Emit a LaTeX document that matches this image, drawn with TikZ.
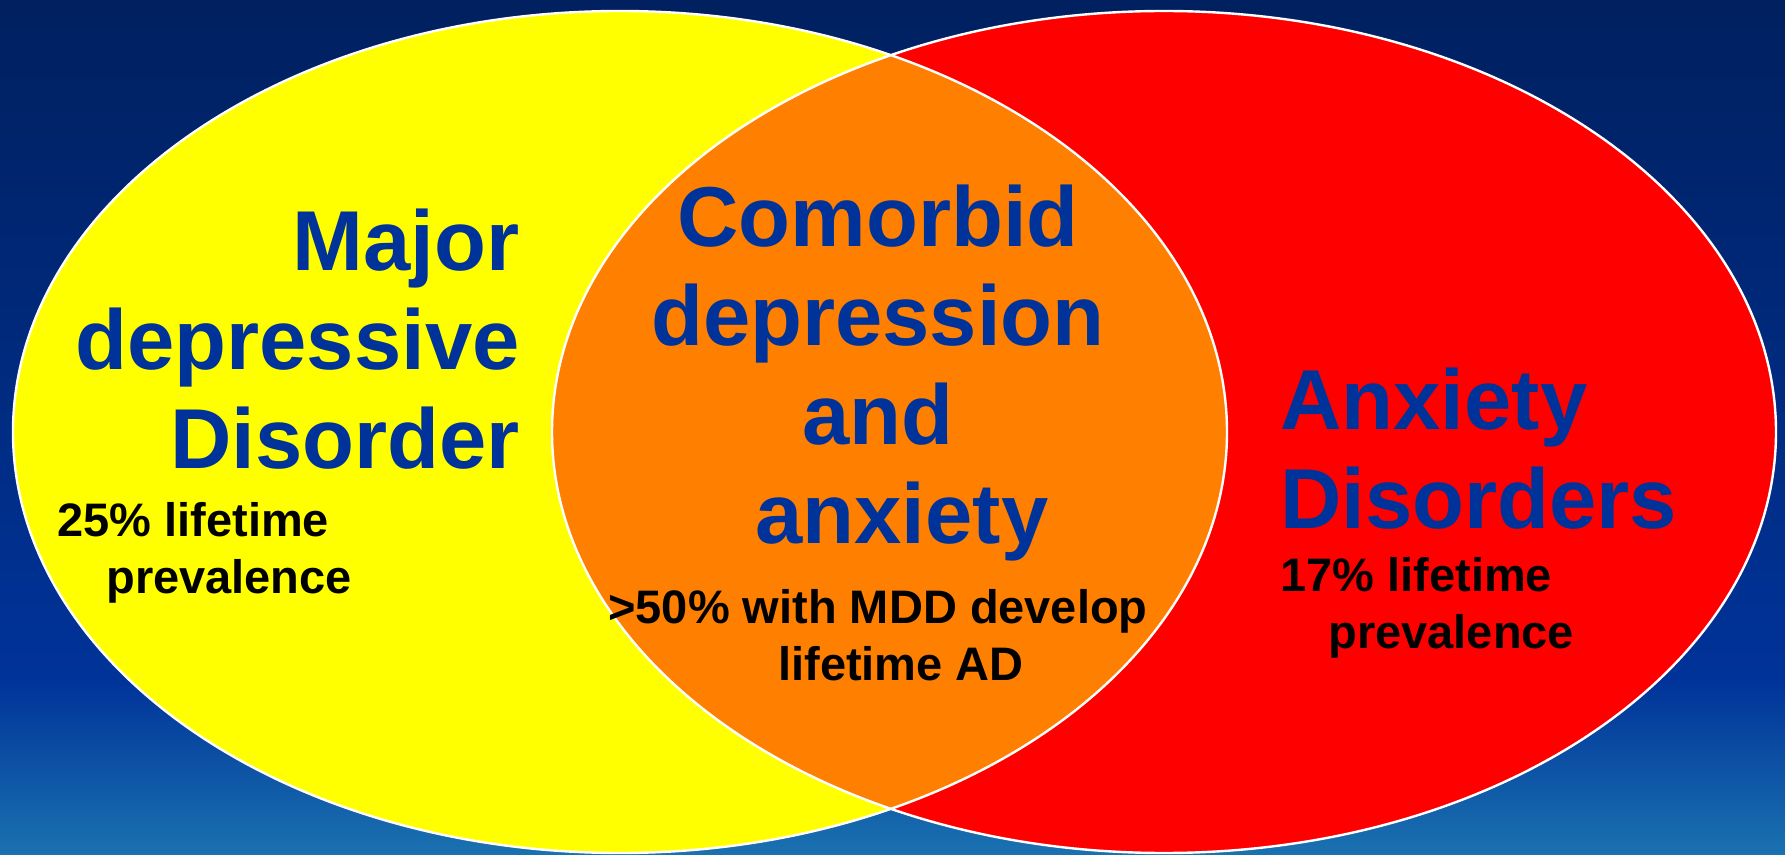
\documentclass[tikz,border=0pt]{standalone}
\usepackage{fontspec}
\setmainfont{Liberation Sans}
\usetikzlibrary{positioning}
\definecolor{navyTop}{HTML}{00205F}
\definecolor{navyMid}{HTML}{003399}
\definecolor{skyLow}{HTML}{1A72B0}
\definecolor{mddYellow}{HTML}{FFFF00}
\definecolor{adRed}{HTML}{FF0000}
\definecolor{bothOrange}{HTML}{FF8000}
\definecolor{txtBlue}{HTML}{003399}
\tikzset{
  bigtxt/.style   = {font=\fontsize{42.5}{49.5}\selectfont\bfseries,
                     text=txtBlue, inner sep=0pt},
  smalltxt/.style = {font=\fontsize{23.5}{28.5}\selectfont\bfseries,
                     text=black, inner sep=0pt},
  rim/.style      = {draw=white, line width=1.2pt}
}

\begin{document}
\begin{tikzpicture}[x=0.5pt, y=-0.5pt]
    \useasboundingbox (0,0) rectangle (1785,855);
    % background
    \shade[top color=navyTop, bottom color=navyMid] (0,0) rectangle (1785,682);
    \shade[top color=navyMid, bottom color=skyLow] (0,680) rectangle (1785,855);

    % the two sets and their overlap
    \fill[mddYellow] (620,432) ellipse [x radius=303.5pt, y radius=210.5pt];
    \fill[adRed] (1164,432) ellipse [x radius=306pt, y radius=210.5pt];
    \begin{scope}
      \clip (620,432) ellipse [x radius=303.5pt, y radius=210.5pt];
      \fill[bothOrange] (1164,432) ellipse [x radius=306pt, y radius=210.5pt];
    \end{scope}
    \draw[rim] (620,432) ellipse [x radius=303.5pt, y radius=210.5pt];
    \draw[rim] (1164,432) ellipse [x radius=306pt, y radius=210.5pt];

    % labels (base = baseline of the last line)
    \node[bigtxt, align=right, anchor=base east] (mdd) at (520,469)
      {Major\\depressive\\Disorder};
    \node[smalltxt, align=left, anchor=base west] (mddPrev) at (57,594)
      {25\% lifetime\\\hspace*{24.5pt}prevalence};
    \node[bigtxt, align=center, anchor=base] (both) at (878,544)
      {Comorbid\\depression\\and\\\hspace*{24pt}anxiety};
    \node[smalltxt, align=center, anchor=base] (bothPrev) at (878,681)
      {>50\% with MDD develop\\\hspace*{23pt}lifetime AD};
    \node[bigtxt, align=left, anchor=base west] (anx) at (1280,529)
      {Anxiety\\Disorders};
    \node[smalltxt, align=left, anchor=base west] (anxPrev) at (1280,649)
      {17\% lifetime\\\hspace*{24pt}prevalence};
  \end{tikzpicture}
\end{document}
